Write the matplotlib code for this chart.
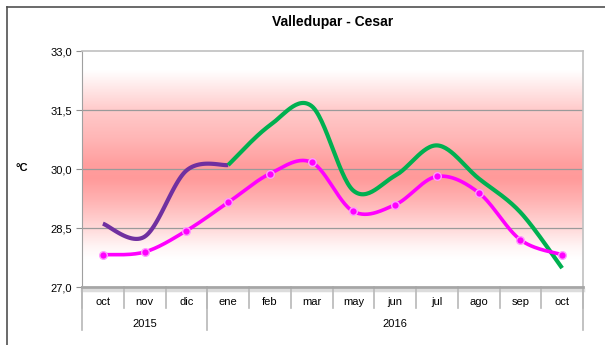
import numpy as np
import matplotlib.pyplot as plt
from matplotlib.colors import LinearSegmentedColormap
from matplotlib.lines import Line2D
import matplotlib.transforms as mtransforms

plt.rcParams['font.family'] = ['Liberation Sans', 'DejaVu Sans']

meses = ['oct', 'nov', 'dic', 'ene', 'feb', 'mar', 'may', 'jun', 'jul', 'ago', 'sep', 'oct']
anios = ['2015', '2016']
grupos = [3, 9]  # meses por año

# temperatura media (rosa, con puntos)
media = [27.82, 27.89, 28.43, 29.15, 29.88, 30.17, 28.92, 29.09, 29.81, 29.40, 28.20, 27.82]
# serie 2015 (morado) oct-ene
serie_a = [28.61, 28.28, 29.96, 30.10]
# serie 2016 (verde) ene-oct
serie_b = [30.10, 31.11, 31.60, 29.45, 29.83, 30.60, 29.76, 28.90, 27.48]

yticks = [27.0, 28.5, 30.0, 31.5, 33.0]


def suave(x, y, n=30):
    # curva tipo Catmull-Rom entre los puntos
    x = np.asarray(x, float)
    y = np.asarray(y, float) * 3.0
    p = np.column_stack([x, y])
    p = np.vstack([p[0], p, p[-1]])
    out = []
    for k in range(1, len(p) - 2):
        p0, p1, p2, p3 = p[k - 1], p[k], p[k + 1], p[k + 2]
        t = np.linspace(0, 1, n)[:, None]
        c = 0.5 * ((2 * p1) + (-p0 + p2) * t + (2 * p0 - 5 * p1 + 4 * p2 - p3) * t ** 2
                   + (-p0 + 3 * p1 - 3 * p2 + p3) * t ** 3)
        out.append(c if k == 1 else c[1:])
    c = np.vstack(out)
    return c[:, 0], c[:, 1] / 3.0


fig = plt.figure(figsize=(6.05, 3.45), dpi=100)
W, H = 605, 345
ax = fig.add_axes([82 / W, (H - 287) / H, (583 - 82) / W, (287 - 51) / H])

n = len(meses)
x = np.arange(n)
ax.set_xlim(-0.5, n - 0.5)
ax.set_ylim(27.0, 33.0)

# fondo degradado (0 abajo, 1 arriba)
cmap = LinearSegmentedColormap.from_list('fondo', [
    (0.00, '#ffffff'), (0.12, '#ffffff'), (0.17, '#fff5f5'),
    (0.25, '#ffd9d9'), (0.37, '#ffb2b2'), (0.46, '#ff9a9a'),
    (0.52, '#ff9e9e'), (0.62, '#ffb4b4'), (0.75, '#ffcaca'),
    (0.87, '#fff0f0'), (0.92, '#ffffff'), (1.0, '#ffffff')])
grad = np.linspace(0, 1, 256)[:, None]
ax.imshow(grad, aspect='auto', cmap=cmap, extent=[-0.5, n - 0.5, 27.0, 33.0],
          origin='lower', zorder=0, vmin=0, vmax=1)

for yt in yticks[1:-1]:
    ax.axhline(yt, color='#9a9a9a', lw=0.9, zorder=1)

# series
xs, ys = suave(x[:4], serie_a)
ax.plot(xs, ys, color='#7030a0', lw=3.0, solid_capstyle='butt', zorder=3)
xs, ys = suave(x[3:], serie_b)
ax.plot(xs, ys, color='#00b050', lw=3.0, solid_capstyle='butt', zorder=3)
xs, ys = suave(x, media)
ax.plot(xs, ys, color='#ff00ff', lw=2.6, zorder=4)
ax.plot(x, media, 'o', ms=5.5, color='#ff00ff', mec='#ff99ff', mew=1.0, zorder=5)

# ejes
for s in ['top', 'right']:
    ax.spines[s].set_color('#c0c0c0')
    ax.spines[s].set_linewidth(1.2)
ax.spines['left'].set_color('#a0a0a0')
ax.spines['bottom'].set_color('#a6a6a6')
ax.spines['bottom'].set_linewidth(2.0)

ax.set_yticks(yticks)
ax.set_yticklabels([f'{v:.1f}'.replace('.', ',') for v in yticks], fontsize=8)
ax.tick_params(axis='y', length=4, color='#909090', pad=3)

ax.set_xticks(x)
ax.set_xticklabels(meses, fontsize=8)
ax.tick_params(axis='x', length=0, pad=7)

# separadores de meses y años
tr = mtransforms.blended_transform_factory(ax.transData, ax.transAxes)
per = 1 / (287 - 51)
limites = np.cumsum([0] + grupos) - 0.5
for b in np.arange(n + 1) - 0.5:
    ax.add_line(Line2D([b, b], [0, -21 * per], transform=tr, color='#b8b8b8',
                       lw=1.2, clip_on=False))
for b in limites:
    ax.add_line(Line2D([b, b], [0, -43 * per], transform=tr, color='#b8b8b8',
                       lw=1.2, clip_on=False))
for k, a in enumerate(anios):
    c = (limites[k] + limites[k + 1]) / 2
    ax.text(c, -37 * per, a, transform=tr, ha='center', va='center', fontsize=8)

# sombra del área de trazado
ax.add_line(Line2D([-0.5, n - 0.5], [-3 * per, -3 * per], transform=tr,
                   color='#dcdcdc', lw=2.5, clip_on=False, zorder=0))

ax.set_title('Valledupar - Cesar', fontsize=10, fontweight='bold', pad=18)
fig.text(22 / W, 1 - 168 / H, '°C', fontsize=8, fontweight='bold', ha='center', va='center')

# marco exterior
fig.add_artist(Line2D([7 / W, 7 / W], [0, 1 - 7 / H], color='#505050', lw=1.2))
fig.add_artist(Line2D([7 / W, 1], [1 - 7 / H, 1 - 7 / H], color='#505050', lw=1.2))

fig.savefig('out.png', dpi=100)
